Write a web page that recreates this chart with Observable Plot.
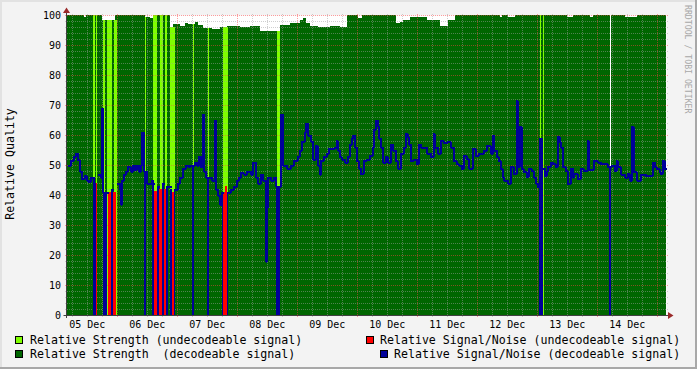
<!DOCTYPE html>
<html>
<head>
<meta charset="utf-8">
<script src="https://cdn.jsdelivr.net/npm/d3@7"></script>
<script src="https://cdn.jsdelivr.net/npm/@observablehq/plot@0.6"></script>
<style>
html,body{margin:0;padding:0;background:#f3f3f3;}
#wrap{position:relative;width:697px;height:369px;overflow:hidden;background:#f3f3f3;font-family:"DejaVu Sans Mono",monospace;}
#wrap svg{position:absolute;left:0;top:0;}
.edge{position:absolute;}
.sw{position:absolute;width:8px;height:8px;border:1px solid #000;box-sizing:border-box;}
.lt{position:absolute;font-size:11.6px;line-height:11.6px;white-space:pre;color:#000;}
#ylab{position:absolute;left:11px;top:164px;font-size:11.6px;line-height:11.6px;white-space:pre;transform:translate(-50%,-50%) rotate(-90deg);color:#000;}
#wm{position:absolute;left:683px;top:5px;writing-mode:vertical-rl;font-size:8.2px;line-height:9px;color:#a8a8a8;white-space:pre;}
</style>
</head>
<body>
<div id="wrap">
  <div class="edge" style="left:0;top:0;width:697px;height:2px;background:#e2e2e2"></div>
  <div class="edge" style="left:0;top:0;width:2px;height:369px;background:#e2e2e2"></div>
  <div class="edge" style="right:0;top:0;width:2px;height:369px;background:#a8a8a8"></div>
  <div class="edge" style="left:0;bottom:0;width:697px;height:2px;background:#a8a8a8"></div>
  <div id="ylab">Relative Quality</div>
  <div id="wm">RRDTOOL / TOBI OETIKER</div>
</div>
<script>
// ---------------- data (times in hours since 05 Dec 00:00) ----------------
const dayLabels = ["05 Dec","06 Dec","07 Dec","08 Dec","09 Dec","10 Dec","11 Dec","12 Dec","13 Dec","14 Dec"];
const yTicks = [0,10,20,30,40,50,60,70,80,90,100];
const viewHours = [4.1, 243.7];

// Relative strength (top of the green area), step values
const strength = [[4.1,100],[10.9,99.2],[11.7,100],[18.1,98.5],[23.3,100],[35.3,99.3],[37.3,98.9],[38.5,100],
 [45.3,96],[46.5,97],[49.3,96.5],[51.3,97.2],[52.5,97],[55.3,97.8],[56.5,96.8],[58.5,95.8],[62.1,95.5],[65.3,96],
 [68.1,96.5],[73.3,96.1],[77.3,96.5],[81.3,94.8],[88.1,93.5],[89.3,96.8],[93.3,97.2],[96.1,97.5],[97.3,98.3],
 [98.5,98.9],[99.7,97.5],[101.3,96.5],[104.3,96.1],[109.3,96.5],[113.3,96],[116.1,100],[120.5,98.9],[122.1,100],
 [135.5,97.2],[137.1,97.8],[138.5,98.5],[141.3,99.5],[148.1,98.3],[153.3,96.5],[156.5,98.2],[159.3,100],
 [177.1,99.2],[177.9,100],[180.3,99.2],[183.3,100],[204.1,99.2],[206.5,100],[213.3,99.2],[214.5,100],
 [227.3,99.2],[232.1,100],[243.7,100]];

// Periods with unknown data
const gapStart = [221.3];
const gapEnd   = [221.7];

// Undecodeable periods (light green)
const undecStart = [14.6,15.6,18.6,20.0,21.0,22.9,35.3,38.6,41.3,43.3,45.3,54.4,60.4,66.4,88.0,193.3,194.4];
const undecEnd   = [15.2,16.2,19.3,20.9,22.0,24.0,35.7,40.0,42.4,44.2,47.3,54.9,60.9,68.4,89.3,193.7,194.8];

// Relative Signal/Noise while undecodeable (red)
const redStart = [15.6,20.6,21.6,22.6,39.0,41.0,42.9,46.0,66.5,67.3];
const redEnd   = [16.2,21.6,21.8,23.8,40.0,42.1,43.8,47.0,67.3,68.2];
const redValue = [44,41,62,41,41.5,42,42,41,41,43];

// Signal/Noise drop-outs (blue bars down to zero)
const dropStart = [14.6,18.4,21.8,34.9,38.1,40.0,42.2,43.8,45.2,47.0,54.1,60.1,66.0,68.2,87.7,192.9,194.0,221.0];
const dropEnd   = [15.6,20.2,22.6,35.7,39.0,41.0,42.9,44.6,46.0,47.4,54.9,60.9,66.5,68.6,89.3,194.0,194.6,221.7];
const dropTop   = [44,41,42,48,44,43,44,43,42,42,50,46,41,41,43,59,49,49];

// Relative Signal/Noise while decodeable (blue line); null = undecodeable
const signalNoise = [[4.1,50],[5.3,51.5],[6.5,53],[7.3,54],[8.1,51.7],[8.9,48],[9.7,45.5],[10.9,46.5],[11.7,45],
 [12.5,44.5],[13.3,46],[14.6,44],[15.6,null],[16.2,47],[17.3,46],[17.9,69],[18.3,41],[20.6,null],[21.8,42],
 [22.6,null],[23.8,44],[24.9,42],[25.3,37],[25.7,45],[26.5,47],[27.3,48],[28.1,49.5],[29.3,48],
 [30.1,50],[30.9,48.5],[31.7,50],[32.5,48],[33.3,50],[33.9,61],[34.5,48],[35.7,44],[36.9,44],[37.7,45],
 [38.1,44],[39.0,null],[40.0,43],[41.0,null],[42.1,44],[42.9,null],[43.8,43],[46.0,null],[47.0,42],[48.1,44],
 [48.9,46],[50.1,49],[51.3,50],[52.5,49.5],[53.3,50],[54.9,51],[55.7,50],[56.5,53],[57.3,49.5],[58.1,67],[58.5,48],
 [59.3,46],[60.9,46],[61.7,45],[62.9,65],[63.3,42],[64.1,40],[64.9,37],[65.7,41],[66.5,null],[68.2,41],
 [69.3,42],[70.5,43],[71.7,45],[72.5,46],[73.3,47.5],[74.5,47],[75.7,48],[77.3,47],[78.1,51],[79.3,46],[80.1,44],
 [81.3,47],[82.1,45],[83.3,18],[83.7,36],[84.1,46],[85.3,45],[86.5,46],[87.3,43],[89.5,67],[90.4,50],
 [91.7,49],[93.3,50],[94.5,51.6],[96.1,53],[96.9,55],[97.7,58],[98.9,61],[99.5,64],[100.1,60],[101.3,58],
 [102.1,52],[103.3,56.6],[104.1,50],[104.9,47],[105.3,51.6],[106.5,53],[107.7,53.9],[108.5,55.5],[110.9,56],
 [111.7,58.3],[112.1,55],[112.9,52.7],[113.7,52],[114.9,51],[116.1,53],[116.9,57],[117.7,59],[118.1,60],
 [118.9,56],[119.7,51.6],[120.5,49],[121.3,47.2],[122.5,51.6],[123.7,52],[124.9,53.3],[126.1,56],[126.5,62],
 [127.3,65],[128.1,63],[128.5,59],[129.3,56],[130.1,51],[131.3,52.7],[132.1,51],[133.3,57],[134.1,55],
 [135.3,51.6],[136.1,49],[137.3,53.9],[138.5,56],[139.3,60.5],[140.1,59.4],[140.5,57],[141.3,51.6],[142.5,52],
 [143.7,50.5],[144.5,57],[145.3,56],[146.5,56],[147.7,54],[149.3,52.7],[150.5,60.5],[150.9,56],[152.1,54],
 [153.3,58.3],[154.5,57.5],[156.1,57.7],[157.3,56],[158.5,51.6],[159.7,50.5],[160.5,50],[161.7,48.9],
 [162.5,53.3],[163.7,52.2],[164.5,49],[166.1,55.5],[167.3,53.3],[168.5,54],[170.5,55],[171.7,56.6],[173.3,54],
 [174.1,60],[174.5,55],[175.7,52.7],[176.5,51.6],[177.3,48.9],[178.1,46],[178.5,45],[180.1,44],[181.3,49.4],
 [182.5,47.2],[183.7,71.6],[184.1,49.4],[184.9,62.7],[185.7,48.9],[186.5,47.8],[187.7,46.1],[188.5,48.9],
 [189.7,48.3],[190.5,46],[191.3,44],[192.1,42.8],[192.9,59],[194.0,49],[194.9,46.6],[195.7,47.8],
 [196.1,49.4],[197.3,51],[198.1,50.5],[199.3,49.4],[200.1,59.4],[200.9,57.7],[201.3,56],[202.1,49.4],
 [203.3,48.3],[204.1,43.9],[205.3,49],[206.1,46],[206.5,47.2],[208.1,45.5],[209.3,48.9],[210.5,48.3],
 [212.1,58.3],[212.5,48.5],[214.5,51.6],[216.1,51],[217.3,50.5],[220.1,49.4],[221.7,50],[222.9,48.3],
 [223.7,51.6],[224.1,49.4],[225.3,47],[226.9,46],[228.1,47.2],[228.9,45],[229.7,62.7],[230.5,47.8],[231.7,45],
 [233.3,47],[235.3,46.6],[238.1,51],[238.9,49.4],[239.7,48.9],[240.9,47.8],[241.3,47.2],[242.1,51.6],
 [242.9,48.9],[243.7,48.9]];

// ---------------- helpers ----------------
const T0 = Date.UTC(2023, 11, 5);
const t = h => new Date(T0 + h * 3600e3);
const parseDay = d3.utcParse("%d %b %Y");
const dayTicks = dayLabels.map(l => new Date(+parseDay(l + " 2023") + 12 * 3600e3));

const strengthData = strength.map(([h, v]) => ({time: t(h), value: v}));
// blue line: hold previous value up to the start of an undecodeable period, then break
const snData = [];
let prevV = null;
for (const [h, v] of signalNoise) {
  if (v == null) {
    if (prevV != null) snData.push({time: t(h), value: prevV});
    snData.push({time: t(h), value: NaN});
  } else snData.push({time: t(h), value: v});
  prevV = v;
}
const bis = d3.bisector(d => d[0]).right;
const strengthAt = h => strength[Math.max(0, bis(strength, h + 1e-6) - 1)][1];
const undecData = undecStart.map((s, i) => ({x1: t(s), x2: t(undecEnd[i]), top: strengthAt(s)}));
const redData = redStart.map((s, i) => ({x1: t(s), x2: t(redEnd[i]), value: redValue[i]}));
const dropData = dropStart.map((s, i) => ({x1: t(s), x2: t(dropEnd[i]), value: dropTop[i]}));
const gapData = gapStart.map((s, i) => ({x1: t(s), x2: t(gapEnd[i])}));

const minorX = d3.range(6, 244, 6).filter(h => h % 24 !== 0).map(t);
const majorX = d3.range(24, 244, 24).map(t);
const minorY = d3.range(2, 100, 2).filter(v => v % 10 !== 0);

const DARK = "#006600", LIGHT = "#80ff00", RED = "#ff0000", BLUE = "#000099";
const crisp = {shapeRendering: "crispEdges"};
const gridX = {x1: () => t(viewHours[0] - 0.8), x2: () => t(viewHours[1] + 0.8)};

const plot = Plot.plot({
  width: 697, height: 369,
  marginLeft: 67, marginRight: 31, marginTop: 15, marginBottom: 54,
  style: {background: "transparent", fontFamily: "DejaVu Sans Mono", fontSize: "10px", color: "#000"},
  x: {type: "utc", domain: viewHours.map(t), label: null},
  y: {domain: [0, 100], label: null},
  marks: [
    Plot.frame({fill: "white", stroke: "none"}),
    Plot.areaY(strengthData, {x: "time", y: "value", curve: "step-after", fill: DARK, ...crisp}),
    Plot.rect(undecData, {x1: "x1", x2: "x2", y1: 0, y2: "top", fill: LIGHT, ...crisp}),
    Plot.rect(gapData, {x1: "x1", x2: "x2", y1: 0, y2: 100, fill: "white", ...crisp}),
    Plot.ruleY(minorY, {...gridX, stroke: "#a0a0a0", strokeOpacity: 0.5, strokeDasharray: "1,1", ...crisp}),
    Plot.ruleX(minorX, {y1: -0.67, y2: 100.67, stroke: "#a0a0a0", strokeOpacity: 0.5, strokeDasharray: "1,1", ...crisp}),
    Plot.ruleY(yTicks, {...gridX, stroke: "#ff4040", strokeOpacity: 0.5, strokeDasharray: "1,1", ...crisp}),
    Plot.ruleX(majorX, {y1: -0.67, y2: 100.67, stroke: "#ff4040", strokeOpacity: 0.5, strokeDasharray: "1,1", ...crisp}),
    Plot.rect(redData, {x1: "x1", x2: "x2", y1: 0, y2: "value", fill: RED, ...crisp}),
    Plot.rect(dropData, {x1: "x1", x2: "x2", y1: 0, y2: "value", fill: BLUE, ...crisp}),
    Plot.line(snData, {x: "time", y: "value", curve: "step-after", stroke: BLUE, strokeWidth: 2, strokeLinejoin: "miter", strokeLinecap: "butt", ...crisp}),
    Plot.axisX(dayTicks, {tickSize: 0, tickPadding: 5, tickFormat: d3.utcFormat("%d %b"), label: null, fontSize: 10}),
    Plot.axisY(yTicks, {tickSize: 0, tickPadding: 6.5, label: null, fontSize: 10})
  ]
});
document.getElementById("wrap").appendChild(plot);

// axis lines and arrows, placed from the scales
const xr = plot.scale("x").range, yr = plot.scale("y").range;
const g = d3.select(plot).append("g");
const ax = xr[0] - 0.5, ay = yr[0] + 0.5;
g.append("line").attr("x1", ax - 3).attr("x2", xr[1] + 2).attr("y1", ay).attr("y2", ay).attr("stroke", "#404040");
g.append("line").attr("x1", ax).attr("x2", ax).attr("y1", yr[0] + 3).attr("y2", yr[1] - 2).attr("stroke", "#404040");
g.append("path").attr("d", `M${xr[1] + 2},${ay - 3.5}L${xr[1] + 7.5},${ay}L${xr[1] + 2},${ay + 3.5}Z`).attr("fill", "#9a2a2a");
g.append("path").attr("d", `M${ax - 3.5},${yr[1] - 2}L${ax},${yr[1] - 7.5}L${ax + 3.5},${yr[1] - 2}Z`).attr("fill", "#9a2a2a");

// legend (HTML, below the plot area)
const legend = [
  {color: LIGHT, text: "Relative Strength (undecodeable signal)", sx: 15, sy: 336, tx: 30, ty: 334.5},
  {color: RED, text: "Relative Signal/Noise (undecodeable signal)", sx: 366, sy: 336, tx: 380, ty: 334.5},
  {color: DARK, text: "Relative Strength  (decodeable signal)", sx: 15, sy: 350, tx: 30, ty: 348.7},
  {color: BLUE, text: "Relative Signal/Noise (decodeable signal)", sx: 380, sy: 350, tx: 394, ty: 348.7}
];
const wrap = d3.select("#wrap");
for (const l of legend) {
  wrap.append("div").attr("class", "sw").style("left", l.sx + "px").style("top", l.sy + "px").style("background", l.color);
  wrap.append("div").attr("class", "lt").style("left", l.tx + "px").style("top", l.ty + "px").text(l.text);
}
</script>
</body>
</html>
